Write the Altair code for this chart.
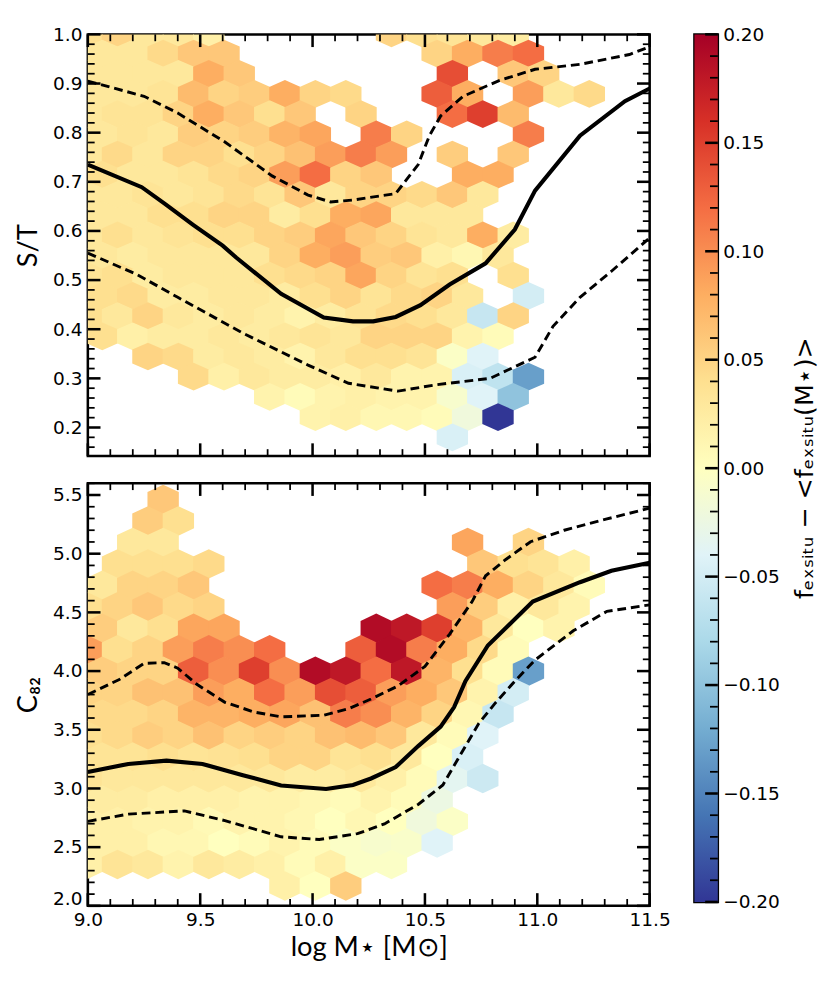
import altair as alt
import pandas as pd

# ---------------- axes / ranges ----------------
X_DOMAIN = [9.0, 11.5]
TOP_Y_DOMAIN = [0.142, 1.0]
BOT_Y_DOMAIN = [2.0, 5.6]

X_MAJOR = [9.0, 9.5, 10.0, 10.5, 11.0, 11.5]
X_MINOR = [9.1, 9.2, 9.3, 9.4, 9.6, 9.7, 9.8, 9.9, 10.1, 10.2, 10.3, 10.4,
           10.6, 10.7, 10.8, 10.9, 11.1, 11.2, 11.3, 11.4]
TOP_Y_MAJOR = [0.2, 0.3, 0.4, 0.5, 0.6, 0.7, 0.8, 0.9, 1.0]
TOP_Y_MINOR = [0.16, 0.18, 0.22, 0.24, 0.26, 0.28, 0.32, 0.34, 0.36, 0.38,
               0.42, 0.44, 0.46, 0.48, 0.52, 0.54, 0.56, 0.58, 0.62, 0.64,
               0.66, 0.68, 0.72, 0.74, 0.76, 0.78, 0.82, 0.84, 0.86, 0.88,
               0.92, 0.94, 0.96, 0.98]
BOT_Y_MAJOR = [2.0, 2.5, 3.0, 3.5, 4.0, 4.5, 5.0, 5.5]
BOT_Y_MINOR = [2.1, 2.2, 2.3, 2.4, 2.6, 2.7, 2.8, 2.9, 3.1, 3.2, 3.3, 3.4,
               3.6, 3.7, 3.8, 3.9, 4.1, 4.2, 4.3, 4.4, 4.6, 4.7, 4.8, 4.9,
               5.1, 5.2, 5.3, 5.4, 5.6]
CB_MAJOR = [-0.2, -0.15, -0.1, -0.05, 0.0, 0.05, 0.1, 0.15, 0.2]
CB_MINOR = [-0.19, -0.18, -0.17, -0.16, -0.14, -0.13, -0.12, -0.11, -0.09,
            -0.08, -0.07, -0.06, -0.04, -0.03, -0.02, -0.01, 0.01, 0.02,
            0.03, 0.04, 0.06, 0.07, 0.08, 0.09, 0.11, 0.12, 0.13, 0.14,
            0.16, 0.17, 0.18, 0.19]

# colour map (RdYlBu reversed), -0.2 .. 0.2
CB_STOPS = [-0.2, -0.16, -0.12, -0.08, -0.04, 0.0, 0.04, 0.08, 0.12, 0.16, 0.2]
CB_COLORS = ["#313695", "#4575b4", "#74add1", "#abd9e9", "#e0f3f8", "#ffffbf",
             "#fee090", "#fdae61", "#f46d43", "#d73027", "#a50026"]

# ---------------- hexbin lattice ----------------
HEX_DX = 0.13546
HEX_X0_EVEN = 9.0642
HEX_X0_ODD = 8.9965
TOP_ROW_Y0, TOP_ROW_DY = 0.961, 0.0411
BOT_ROW_Y0, BOT_ROW_DY = 5.462, 0.1829

N = None
# row index -> (first column index, cell values)
TOP_ROWS = {
    -1: (0, [0.04, 0.05, 0.03, 0.03, 0.02, N, N, N, N, N, 0.05, 0.04, 0.035, 0.03, 0.025]),
    0: (0, [0.03, 0.03, 0.045, 0.06, 0.06, N, N, N, N, N, N, 0.05, 0.08, 0.11, 0.12]),
    1: (0, [0.03, 0.03, 0.03, 0.03, 0.08, 0.06, N, N, N, N, N, N, 0.14, N, 0.06, 0.05]),
    2: (0, [0.03, 0.03, 0.035, 0.07, 0.05, 0.055, 0.08, 0.05, 0.045, N, N, 0.13, 0.08, N, 0.09, 0.03, 0.045]),
    3: (0, [0.03, 0.035, 0.035, 0.05, 0.08, 0.06, 0.04, 0.06, N, 0.05, N, N, 0.12, 0.15, 0.07]),
    4: (0, [0.03, 0.035, 0.03, 0.055, 0.05, 0.055, 0.075, 0.085, N, 0.11, 0.05, N, N, N, 0.11]),
    5: (0, [0.03, 0.045, 0.03, 0.05, 0.05, 0.04, 0.05, 0.065, 0.09, 0.11, 0.09, N, 0.055, N, 0.06]),
    6: (0, [0.04, 0.03, 0.03, 0.035, 0.045, 0.05, 0.09, 0.12, 0.05, 0.06, N, N, 0.08, 0.08]),
    7: (0, [0.03, 0.03, 0.035, 0.03, 0.035, 0.045, 0.035, 0.06, 0.03, 0.05, 0.05, 0.045, 0.06, 0.03]),
    8: (0, [0.03, 0.03, 0.04, 0.04, 0.05, 0.05, 0.025, 0.04, 0.08, 0.085, 0.03, 0.03, 0.03]),
    9: (0, [0.03, 0.04, 0.03, 0.035, 0.04, 0.04, 0.05, 0.055, 0.085, 0.06, 0.05, 0.035, 0.03, 0.08, 0.025]),
    10: (0, [0.03, 0.025, 0.03, 0.03, 0.03, 0.03, 0.05, 0.08, 0.09, 0.055, 0.06, 0.02, 0.01, 0.03]),
    11: (0, [0.035, 0.04, 0.025, 0.03, 0.03, 0.03, 0.04, 0.045, 0.05, 0.085, 0.05, 0.035, 0.04, N, 0.04]),
    12: (0, [0.04, 0.045, 0.025, 0.025, 0.03, 0.03, 0.025, 0.04, 0.05, 0.035, 0.045, 0.05, 0.03, N, -0.05]),
    13: (0, [0.04, 0.03, 0.05, 0.03, 0.025, 0.03, 0.025, 0.015, 0.025, 0.035, 0.045, 0.04, 0.03, -0.06, 0.05]),
    14: (0, [0.04, 0.02, 0.025, 0.025, 0.03, 0.025, 0.03, 0.035, 0.03, 0.05, 0.05, 0.05, 0.015, 0.005]),
    15: (2, [0.05, 0.045, 0.025, 0.03, 0.025, 0.015, 0.03, 0.04, 0.04, 0.035, -0.005, -0.04]),
    16: (3, [0.045, 0.02, 0.03, 0.025, 0.025, 0.02, 0.03, 0.015, 0.015, -0.045, -0.065, -0.13]),
    17: (6, [0.015, 0.005, 0.015, 0.02, 0.015, 0.015, -0.01, -0.04, -0.1]),
    18: (7, [0.015, 0.02, 0.01, 0.01, 0.005, -0.02, -0.2]),
    19: (12, [-0.045]),
}
BOT_ROWS = {
    0: (2, [0.06]),
    1: (2, [0.055, 0.04]),
    2: (1, [0.03, 0.03, N, N, N, N, N, N, N, N, N, 0.085, N, 0.05]),
    3: (1, [0.04, 0.04, 0.04, 0.045, N, N, N, N, N, N, N, N, 0.06, 0.04, 0.035, 0.02]),
    4: (0, [0.03, 0.05, 0.05, 0.06, N, N, N, N, N, N, N, 0.12, 0.11, 0.08, 0.05, 0.03, 0.005]),
    5: (0, [0.04, 0.05, 0.06, 0.045, 0.05, N, N, N, N, N, N, N, 0.09, 0.055, 0.02, 0.03, 0.015]),
    6: (0, [0.055, 0.03, 0.04, 0.085, 0.085, N, N, N, N, 0.19, 0.18, 0.15, 0.075, 0.03, 0.0, 0.015]),
    7: (0, [0.09, 0.04, 0.05, 0.09, 0.11, 0.1, 0.12, N, N, 0.13, 0.19, 0.11, 0.08, 0.045, 0.005]),
    8: (0, [0.055, 0.05, 0.05, 0.13, 0.1, 0.15, 0.1, 0.19, 0.18, 0.12, 0.18, 0.075, 0.04, 0.005, -0.13]),
    9: (0, [0.05, 0.05, 0.065, 0.065, 0.09, 0.08, 0.12, 0.09, 0.14, 0.13, 0.09, 0.08, 0.06, 0.015, -0.05]),
    10: (0, [0.045, 0.045, 0.05, 0.075, 0.075, 0.08, 0.085, 0.065, 0.11, 0.1, 0.075, 0.05, 0.01, -0.06]),
    11: (0, [0.04, 0.045, 0.055, 0.05, 0.065, 0.05, 0.055, 0.05, 0.065, 0.07, 0.06, 0.03, 0.005, -0.04]),
    12: (0, [0.035, 0.035, 0.04, 0.035, 0.037, 0.04, 0.05, 0.05, 0.035, 0.04, 0.03, 0.0, -0.045]),
    13: (0, [0.035, 0.03, 0.03, 0.03, 0.03, 0.03, 0.03, 0.025, 0.025, 0.03, 0.02, 0.005, -0.035, -0.055]),
    14: (0, [0.025, 0.025, 0.02, 0.02, 0.02, 0.015, 0.015, 0.01, 0.005, 0.015, 0.005, -0.025]),
    15: (0, [0.02, 0.02, 0.015, 0.015, 0.008, 0.015, 0.015, 0.01, 0.0, 0.01, 0.0, -0.02, -0.005]),
    16: (0, [0.02, 0.02, 0.01, 0.01, 0.0, 0.005, 0.015, 0.005, -0.005, -0.01, -0.008, -0.04]),
    17: (0, [0.02, 0.035, 0.03, 0.015, 0.03, 0.025, 0.02, 0.005, 0.02, -0.005, -0.005]),
    18: (6, [0.02, 0.0, 0.055]),
}

# ---------------- median and 16/84 percentile lines ----------------
TOP_MED_X = [9.0, 9.24, 9.34, 9.47, 9.60, 9.66, 9.86, 10.05, 10.18, 10.27, 10.37,
             10.48, 10.61, 10.77, 10.90, 10.99, 11.19, 11.39, 11.5]
TOP_MED_Y = [0.735, 0.689, 0.656, 0.612, 0.570, 0.546, 0.472, 0.424, 0.416, 0.416,
             0.425, 0.449, 0.491, 0.534, 0.603, 0.682, 0.794, 0.864, 0.890]
TOP_HI_X = [9.0, 9.25, 9.40, 9.61, 9.82, 9.98, 10.08, 10.18, 10.37, 10.47, 10.52,
            10.57, 10.67, 10.83, 10.99, 11.19, 11.41, 11.5]
TOP_HI_Y = [0.905, 0.874, 0.840, 0.781, 0.712, 0.673, 0.659, 0.663, 0.676, 0.735,
            0.794, 0.834, 0.874, 0.906, 0.929, 0.939, 0.959, 0.975]
TOP_LO_X = [9.0, 9.22, 9.40, 9.69, 9.98, 10.16, 10.38, 10.55, 10.79, 10.99, 11.07,
            11.19, 11.33, 11.5]
TOP_LO_Y = [0.555, 0.511, 0.465, 0.392, 0.327, 0.290, 0.274, 0.287, 0.300, 0.343,
            0.406, 0.465, 0.518, 0.586]

BOT_MED_X = [9.0, 9.18, 9.35, 9.51, 9.69, 9.86, 10.06, 10.18, 10.26, 10.37, 10.47,
             10.57, 10.63, 10.68, 10.78, 10.98, 11.19, 11.33, 11.5]
BOT_MED_Y = [3.141, 3.209, 3.237, 3.209, 3.113, 3.025, 2.996, 3.03, 3.085, 3.182,
             3.361, 3.527, 3.693, 3.914, 4.218, 4.592, 4.757, 4.854, 4.923]
BOT_HI_X = [9.0, 9.14, 9.25, 9.34, 9.40, 9.485, 9.61, 9.74, 9.86, 10.05, 10.16,
            10.26, 10.38, 10.50, 10.61, 10.71, 10.77, 10.86, 10.97, 11.12, 11.31, 11.5]
BOT_HI_Y = [3.80, 3.928, 4.066, 4.072, 4.025, 3.887, 3.734, 3.651, 3.610, 3.624,
            3.679, 3.762, 3.873, 4.039, 4.315, 4.592, 4.812, 4.951, 5.102, 5.2,
            5.296, 5.388]
BOT_LO_X = [9.0, 9.18, 9.43, 9.61, 9.86, 10.03, 10.2, 10.32, 10.47, 10.58, 10.655,
            10.74, 10.81, 10.90, 10.99, 11.16, 11.31, 11.5]
BOT_LO_Y = [2.72, 2.781, 2.809, 2.726, 2.588, 2.565, 2.615, 2.698, 2.864, 3.03,
            3.278, 3.555, 3.721, 3.914, 4.094, 4.343, 4.509, 4.564]

TITLE_X = "log M\u22c6 [M\u2299]"
TITLE_TOP_Y = "S/T"
TITLE_BOT_Y = "C\u2088\u2082"
TITLE_CB = "f\u2091\u2093\u209b\u1d62\u209c\u1d64 \u2212 <f\u2091\u2093\u209b\u1d62\u209c\u1d64(M\u22c6)>"

# ---------------- layout constants ----------------
W = 577
H_TOP = 433
H_BOT = 434
CB_W = 24
CB_H = 891
LABEL_FONT = "DejaVu Sans"
TITLE_FONT = "Lato"
LABEL_SIZE = 19
TITLE_SIZE = 28

px_per_x = W / (X_DOMAIN[1] - X_DOMAIN[0])
hex_w = HEX_DX * px_per_x
HEX_SIZE = hex_w ** 2
half_unit = hex_w / 2.0


def hex_path(row_dy_units, ypx_per_unit):
    row_px = row_dy_units * ypx_per_unit
    h = (2.0 / 3.0) * row_px / half_unit * 1.03
    a = 1.03
    return (f"M0,{-h:.4f}L{a},{-h/2:.4f}L{a},{h/2:.4f}L0,{h:.4f}"
            f"L{-a},{h/2:.4f}L{-a},{-h/2:.4f}Z")


def hex_table(rows, y0, dy):
    recs = []
    for r, (k0, vals) in rows.items():
        base = HEX_X0_EVEN if r % 2 == 0 else HEX_X0_ODD
        for i, v in enumerate(vals):
            if v is None:
                continue
            recs.append({"x": base + (k0 + i) * HEX_DX, "y": y0 - r * dy, "v": v})
    return pd.DataFrame(recs)


def line_table(xs, ys, name):
    return pd.DataFrame({"x": xs, "y": ys, "line": name, "o": list(range(len(xs)))})


color_scale = alt.Scale(domain=CB_STOPS, range=CB_COLORS, interpolate="rgb", clamp=True)


def make_panel(rows, y0, dy, ydom, ymaj, ymin, H, ytitle, show_x, med, hi, lo):
    xaxis = (alt.Axis(values=X_MAJOR, format=".1f", ticks=False, tickSize=0, domain=False,
                      grid=False, labelFont=LABEL_FONT, labelFontSize=LABEL_SIZE,
                      labelPadding=5, labelFlush=False, labelOverlap=False,
                      title=TITLE_X, titleFont=TITLE_FONT, titleFontSize=TITLE_SIZE,
                      titleFontWeight="normal", titlePadding=5)
             if show_x else None)
    yaxis_kw = dict(values=ymaj, format=".1f", ticks=False, tickSize=0, domain=False,
                    grid=False, labelFont=LABEL_FONT, labelFontSize=LABEL_SIZE,
                    labelPadding=6, labelOverlap=False,
                    title=ytitle, titleFont=TITLE_FONT, titleFontSize=TITLE_SIZE,
                    titleFontWeight="normal", titlePadding=11)
    if show_x:
        yaxis_kw.update(labelFlush=True, labelFlushOffset=3)
    else:
        yaxis_kw.update(labelFlush=False)
    yaxis = alt.Axis(**yaxis_kw)
    xsc = alt.Scale(domain=X_DOMAIN, nice=False, zero=False)
    ysc = alt.Scale(domain=ydom, nice=False, zero=False)

    def X():
        return alt.X("x:Q", scale=xsc, axis=xaxis)

    def Y():
        return alt.Y("y:Q", scale=ysc, axis=yaxis)

    ypx = H / (ydom[1] - ydom[0])
    hexes = alt.Chart(hex_table(rows, y0, dy)).mark_point(
        shape=hex_path(dy, ypx), filled=True, size=HEX_SIZE, opacity=1,
        strokeWidth=0, clip=True
    ).encode(x=X(), y=Y(), color=alt.Color("v:Q", scale=color_scale, legend=None))

    solid = alt.Chart(line_table(med[0], med[1], "median")).mark_line(
        color="black", strokeWidth=4.2, clip=True
    ).encode(x=X(), y=Y(), order="o:Q")
    dashed = alt.Chart(pd.concat([line_table(hi[0], hi[1], "p84"),
                                  line_table(lo[0], lo[1], "p16")])).mark_line(
        color="black", strokeWidth=3, strokeDash=[9, 5], clip=True
    ).encode(x=X(), y=Y(), detail="line:N", order="o:Q")

    layers = [hexes, solid, dashed]
    for vals, L, sw in [(X_MAJOR, 13, 2.6), (X_MINOR, 7, 1.8)]:
        base = alt.Chart(pd.DataFrame({"x": vals})).mark_rule(color="black", strokeWidth=sw)
        layers.append(base.encode(x=X(), y=alt.value(0), y2=alt.value(L)))
        layers.append(base.encode(x=X(), y=alt.value(H - L), y2=alt.value(H)))
    for vals, L, sw in [(ymaj, 13, 2.6), (ymin, 7, 1.8)]:
        base = alt.Chart(pd.DataFrame({"y": vals})).mark_rule(color="black", strokeWidth=sw)
        layers.append(base.encode(y=Y(), x=alt.value(0), x2=alt.value(L)))
        layers.append(base.encode(y=Y(), x=alt.value(W - L), x2=alt.value(W)))
    return alt.layer(*layers).properties(width=W, height=H)


top = make_panel(TOP_ROWS, TOP_ROW_Y0, TOP_ROW_DY, TOP_Y_DOMAIN, TOP_Y_MAJOR, TOP_Y_MINOR,
                 H_TOP, TITLE_TOP_Y, False,
                 (TOP_MED_X, TOP_MED_Y), (TOP_HI_X, TOP_HI_Y), (TOP_LO_X, TOP_LO_Y))
bottom = make_panel(BOT_ROWS, BOT_ROW_Y0, BOT_ROW_DY, BOT_Y_DOMAIN, BOT_Y_MAJOR, BOT_Y_MINOR,
                    H_BOT, TITLE_BOT_Y, True,
                    (BOT_MED_X, BOT_MED_Y), (BOT_HI_X, BOT_HI_Y), (BOT_LO_X, BOT_LO_Y))

# ---------------- colorbar ----------------
cb_scale = alt.Scale(domain=[-0.2, 0.2], nice=False, zero=False)
cb_axis = alt.Axis(orient="right", values=CB_MAJOR, format=".2f", ticks=False, tickSize=0,
                   domain=False, grid=False, labelFont=LABEL_FONT, labelFontSize=LABEL_SIZE,
                   labelPadding=5, labelFlush=False, labelOverlap=False, title=None)
gradient = {"gradient": "linear", "x1": 0, "x2": 0, "y1": 1, "y2": 0,
            "stops": [{"offset": i / (len(CB_COLORS) - 1), "color": c}
                      for i, c in enumerate(CB_COLORS)]}
cb_rect = alt.Chart(pd.DataFrame({"a": [0]})).mark_rect(fill=gradient).encode(
    x=alt.value(0), x2=alt.value(CB_W), y=alt.value(0), y2=alt.value(CB_H))
cb_layers = [cb_rect]
for vals, L, sw in [(CB_MAJOR, 13, 2.6), (CB_MINOR, 8, 1.8)]:
    cb_layers.append(
        alt.Chart(pd.DataFrame({"v": vals})).mark_rule(color="black", strokeWidth=sw).encode(
            y=alt.Y("v:Q", scale=cb_scale, axis=cb_axis),
            x=alt.value(CB_W - L), x2=alt.value(CB_W)))
cb_layers.append(
    alt.Chart(pd.DataFrame({"t": [TITLE_CB]})).mark_text(
        angle=270, font="DejaVu Sans", fontSize=26, align="center", baseline="middle",
        color="black"
    ).encode(x=alt.value(114), y=alt.value(CB_H / 2), text="t:N"))
cbar = alt.layer(*cb_layers).properties(width=CB_W, height=CB_H)

left = alt.vconcat(top, bottom, spacing=22)
chart = alt.hconcat(left, cbar, spacing=21).properties(
    padding={"left": 5, "top": 3, "right": 2, "bottom": 2}
).configure_view(stroke="black", strokeWidth=2.6).configure_axis(
    labelColor="black", titleColor="black")

chart.save("out.html", embed_options={"renderer": "svg", "actions": False})
